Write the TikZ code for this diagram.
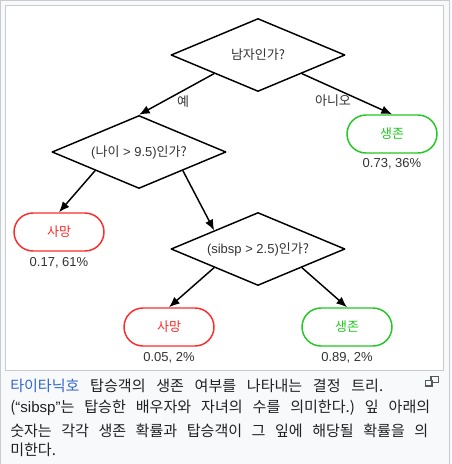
\documentclass[tikz,border=0pt]{standalone}
\usepackage{fontspec}
\setmainfont{Liberation Sans}
\newfontfamily\kr{Noto Sans CJK KR}
\usetikzlibrary{shapes.geometric,arrows.meta}
\definecolor{bordergray}{HTML}{C8CCD1}
\definecolor{capbg}{HTML}{F8F9FA}
\definecolor{txt}{HTML}{333333}
\definecolor{captxt}{HTML}{202122}
\definecolor{linkblue}{HTML}{3366CC}
\definecolor{redc}{HTML}{FF2A2A}
\definecolor{greenc}{HTML}{22C922}
\definecolor{icongray}{HTML}{54595D}
\newcommand{\K}[1]{{\kr #1}}
\newcommand{\capfont}{\kr\fontsize{11.3}{12}\selectfont\frenchspacing\spaceskip 3pt plus 30pt\relax}
\newcommand{\capline}[2]{\makebox[#1][s]{#2}}
\begin{document}
\begin{tikzpicture}[x=0.75pt,y=-0.75pt,
  decision/.style={diamond, draw=black, line width=1.1pt, line join=round, inner sep=0pt,
    aspect=2.38, minimum width=130.5pt, minimum height=54.75pt, text=txt,
    font=\fontsize{9.75}{12}\selectfont},
  leaf/.style={rectangle, rounded corners=14.25pt, line width=1.1pt, minimum width=67.5pt,
    minimum height=28.5pt, inner sep=0pt, font=\kr\fontsize{9.75}{12}\selectfont},
  dead/.style={leaf, draw=redc, text=redc},
  alive/.style={leaf, draw=greenc, text=greenc},
  prob/.style={text=txt, font=\fontsize{9.75}{12}\selectfont, inner sep=0pt},
  edgelbl/.style={text=txt, font=\kr\fontsize{9.75}{12}\selectfont, inner sep=0pt},
  arr/.style={-{Latex[length=8pt,width=6.5pt]}, line width=1.1pt},
  caption/.style={anchor=west, inner sep=0pt, text=captxt, font=\capfont}
]
\useasboundingbox (0,0) rectangle (451,464);
\fill[capbg] (0,0) rectangle (451,464);
\draw[bordergray, line width=0.75pt] (0.5,464) -- (0.5,0.5) -- (449.5,0.5) -- (449.5,464);
\draw[bordergray, line width=0.75pt, fill=white] (5.5,5.5) rectangle (443.5,370);

% decisions
\node[decision] (q1) at (258,55) {\K{남자인가?}};
\node[decision] (q2) at (139,152) {(\K{나이} > 9.5)\K{인가?}};
\node[decision] (q3) at (258,249) {(sibsp > 2.5)\K{인가?}};

% leaves
\node[alive] (l1) at (392,134) {생존};
\node[dead]  (l2) at (59,232) {사망};
\node[dead]  (l3) at (169,327) {사망};
\node[alive] (l4) at (347,327) {생존};

% probabilities
\node[prob] (p1) at (392,164) {0.73, 36\%};
\node[prob] (p2) at (59,263) {0.17, 61\%};
\node[prob] (p3) at (169,358) {0.05, 2\%};
\node[prob] (p4) at (347,358) {0.89, 2\%};

% connectors
\draw[arr] (q1.south west) -- (q2.north);
\draw[arr] (q1.south east) -- (l1.north);
\draw[arr] (q2.south west) -- (l2.north);
\draw[arr] (q2.south east) -- (q3.north west);
\draw[arr] (q3.south west) -- (l3.north);
\draw[arr] (q3.south east) -- (l4.north);

\node[edgelbl] (yes) at (183,102) {예};
\node[edgelbl] (no) at (333,101) {아니오};

% caption
\node[caption] (c1) at (10,385.7) {\capline{279.75pt}{{\color{linkblue}타이타닉호} 탑승객의 생존 여부를 나타내는 결정 트리.}};
\node[caption] (c2) at (10,408) {\capline{315pt}{({\rmfamily “sibsp”}는 탑승한 배우자와 자녀의 수를 의미한다.) 잎 아래의}};
\node[caption] (c3) at (10,430.5) {\capline{313.5pt}{숫자는 각각 생존 확률과 탑승객이 그 잎에 해당될 확률을 의}};
\node[caption] (c4) at (10,450) {미한다.};

% enlarge icon
\draw[icongray, line width=0.9pt] (431,376.5) rectangle (438.5,382.5);
\draw[icongray, line width=0.9pt, fill=capbg] (425.5,380.5) rectangle (432,386);
\end{tikzpicture}
\end{document}
